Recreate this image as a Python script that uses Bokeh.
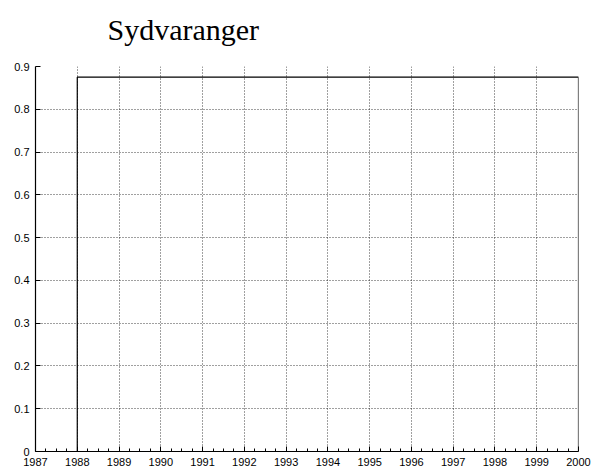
import numpy as np
from bokeh.plotting import figure
from bokeh.models import FixedTicker, Range1d, Title
from bokeh.embed import file_html
from bokeh.resources import INLINE

# data
title_text = "Sydvaranger"
years = [1987, 1988, 2000]
values = [0.0, 0.875, 0.0]
x_ticks = list(range(1987, 2001))
y_ticks = [0.0, 0.1, 0.2, 0.3, 0.4, 0.5, 0.6, 0.7, 0.8, 0.9]
y_tick_labels = ["0", "0.1", "0.2", "0.3", "0.4", "0.5", "0.6", "0.7", "0.8", "0.9"]

p = figure(width=596, height=472, output_backend="svg", toolbar_location=None,
           x_range=Range1d(1987, 2000), y_range=Range1d(0, 0.9),
           min_border_left=35, min_border_right=18, min_border_top=66, min_border_bottom=21)
p.outline_line_color = None
p.background_fill_color = "white"
p.border_fill_color = "white"

# main title (outer panel)
p.title.text = title_text
p.title.align = "left"
p.title.offset = 72
p.title.text_font = "Liberation Serif"
p.title.text_font_size = "30px"
p.title.text_font_style = "normal"
p.title.text_color = "black"
p.title.vertical_align = "bottom"
p.title.standoff = 0

# spacer panel between title and frame
spacer = Title(text=" ", text_font_size="10px", standoff=8)
p.add_layout(spacer, "above")

minor = [y + q for y in x_ticks[:-1] for q in (0.25, 0.5, 0.75)]
p.xaxis.ticker = FixedTicker(ticks=x_ticks, minor_ticks=minor)
p.xaxis.major_label_overrides = {float(t): str(t) for t in x_ticks}
p.yaxis.ticker = FixedTicker(ticks=y_ticks)
p.yaxis.major_label_overrides = {t: l for t, l in zip(y_ticks, y_tick_labels)}

for ax in (p.xaxis, p.yaxis):
    ax.axis_line_color = "black"
    ax.axis_line_width = 1.2
    ax.major_tick_in = 5
    ax.major_tick_out = 0
    ax.major_tick_line_color = "black"
    ax.major_label_text_font = "Liberation Sans"
    ax.major_label_text_font_size = "11px"
    ax.major_label_text_color = "black"
p.xaxis.minor_tick_in = 3
p.xaxis.minor_tick_out = 0
p.xaxis.minor_tick_line_color = "black"
p.yaxis.minor_tick_line_color = None
p.xaxis.major_label_standoff = 6
p.yaxis.major_label_standoff = 6

for g in (p.xgrid, p.ygrid):
    g.grid_line_color = "black"
    g.grid_line_alpha = 0.75
    g.grid_line_dash = "1 2"
    g.grid_line_width = 1

p.step(years, values, mode="after", line_color="black", line_width=1.2)

open("out.html", "w").write(file_html(p, INLINE))
